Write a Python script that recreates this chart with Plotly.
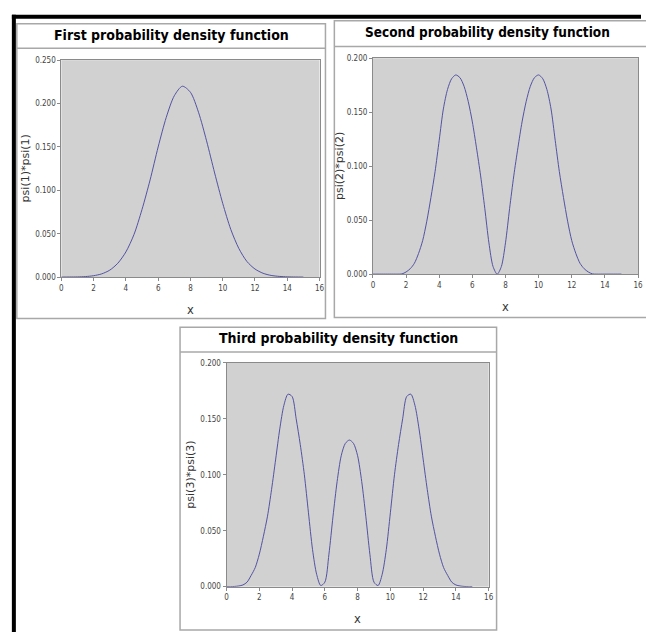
import plotly.graph_objects as go

W, H = 646, 637

# ---------- data ----------
x1 = [0, 0.5, 1, 1.5, 2, 2.5, 3, 3.5, 4, 4.5, 5, 5.5, 6, 6.5, 7, 7.5,
      8, 8.5, 9, 9.5, 10, 10.5, 11, 11.5, 12, 12.5, 13, 13.5, 14, 14.5, 15]
y1 = [0, 0.0001, 0.0002, 0.0006, 0.0016, 0.0037, 0.008, 0.016, 0.029, 0.049,
      0.078, 0.112, 0.150, 0.184, 0.209, 0.220, 0.213, 0.190, 0.157, 0.120,
      0.085, 0.055, 0.033, 0.018, 0.0093, 0.0044, 0.0019, 0.0008, 0.0003, 0.0001, 0]

x23 = [0, 0.25, 0.5, 0.75, 1, 1.25, 1.5, 1.75, 2, 2.25, 2.5, 2.75, 3, 3.25, 3.5, 3.75,
       4, 4.25, 4.5, 4.75, 5, 5.25, 5.5, 5.75, 6, 6.25, 6.5, 6.75, 7, 7.25, 7.5, 7.75,
       8, 8.25, 8.5, 8.75, 9, 9.25, 9.5, 9.75, 10, 10.25, 10.5, 10.75, 11, 11.25, 11.5,
       11.75, 12, 12.25, 12.5, 12.75, 13, 13.25, 13.5, 13.75, 14, 14.25, 14.5, 14.75, 15]
y2 = [0, 0, 0, 0, 0, 0, 0, 0.0002, 0.002, 0.005, 0.010, 0.019, 0.031, 0.049, 0.071, 0.095,
      0.124, 0.153, 0.171, 0.181, 0.1845, 0.182, 0.174, 0.160, 0.141, 0.117, 0.091, 0.061,
      0.029, 0.007, 0.0, 0.007, 0.029, 0.061, 0.091, 0.117, 0.141, 0.160, 0.174, 0.182,
      0.1845, 0.181, 0.171, 0.153, 0.124, 0.095, 0.071, 0.049, 0.031, 0.019, 0.010, 0.005,
      0.002, 0.0002, 0, 0, 0, 0, 0, 0, 0]
y3 = [0, 0, 0.0002, 0.0006, 0.0015, 0.004, 0.010, 0.017, 0.029, 0.045, 0.063, 0.087,
      0.114, 0.141, 0.162, 0.172, 0.170, 0.150, 0.127, 0.100, 0.066, 0.033, 0.011, 0.001,
      0.004, 0.029, 0.063, 0.094, 0.117, 0.128, 0.131, 0.128, 0.117, 0.094, 0.063, 0.029,
      0.004, 0.001, 0.011, 0.033, 0.066, 0.100, 0.127, 0.150, 0.170, 0.172, 0.162, 0.141,
      0.114, 0.087, 0.063, 0.045, 0.029, 0.017, 0.010, 0.004, 0.0015, 0.0006, 0.0002, 0, 0]

titles = ["First probability density function",
          "Second probability density function",
          "Third probability density function"]
ylabels = ["psi(1)*psi(1)", "psi(2)*psi(2)", "psi(3)*psi(3)"]
xlabel = "x"
ymax = [0.25, 0.2, 0.2]
xticks = [0, 2, 4, 6, 8, 10, 12, 14, 16]

# ---------- layout geometry (pixels) ----------
areas = [(60, 57, 321, 277), (375, 55, 643, 274), (227, 364, 492, 591)]
boxes = [(15, 20, 327, 45, 319), (336, 17, 652, 43, 318), (180, 328, 500, 353, 635)]
title_pos = [(171, 31, 14), (491, 28, 13.5), (340, 339, 14)]
ylab_x = [24, 340.5, 191]

def px(x):
    return x / W

def py(y):
    return 1 - y / H

LINE = "#5252a2"
AX = "#8a8a8a"
FONT_C = "DejaVu Sans Condensed, DejaVu Sans, sans-serif"
FONT = "DejaVu Sans, sans-serif"

fig = go.Figure()
series = [(x1, y1), (x23, y2), (x23, y3)]
for i, (xs, ys) in enumerate(series):
    n = "" if i == 0 else str(i + 1)
    fig.add_trace(go.Scatter(x=xs, y=ys, mode="lines",
                             line=dict(color=LINE, width=1, shape="spline", smoothing=0.8),
                             xaxis="x" + n, yaxis="y" + n, showlegend=False, hoverinfo="skip"))

layout = dict(width=W, height=H, margin=dict(l=0, r=0, t=0, b=0),
              paper_bgcolor="white", plot_bgcolor="#d1d1d1", showlegend=False)

shapes = []
annotations = []
for i in range(3):
    n = "" if i == 0 else str(i + 1)
    l, t, r, b = areas[i]
    common = dict(showline=True, linecolor=AX, linewidth=1, mirror=True, ticks="outside",
                  ticklen=3, tickcolor=AX, tickwidth=1, showgrid=False, zeroline=False,
                  tickfont=dict(family=FONT_C, size=8, color="#444444"))
    layout["xaxis" + n] = dict(domain=[px(l), px(r)], range=[0, 16], tickvals=xticks,
                               anchor="y" + n, fixedrange=True, **common)
    layout["yaxis" + n] = dict(domain=[py(b), py(t)], range=[0, ymax[i]], dtick=0.05,
                               tickformat=".3f", anchor="x" + n, fixedrange=True, **common)
    bl, bt, br, btb, bb = boxes[i]
    shapes.append(dict(type="rect", xref="paper", yref="paper", x0=px(bl), x1=px(br),
                       y0=py(bb), y1=py(bt), line=dict(color="#a8a8a8", width=1.5), layer="below"))
    shapes.append(dict(type="line", xref="paper", yref="paper", x0=px(bl), x1=px(br),
                       y0=py(btb), y1=py(btb), line=dict(color="#a8a8a8", width=1.5), layer="below"))
    tx, ty, ts = title_pos[i]
    annotations.append(dict(text="<b>" + titles[i] + "</b>", x=px(tx), y=py(ty), xref="paper", yref="paper",
                            showarrow=False, xanchor="center", yanchor="middle",
                            font=dict(family=FONT_C, size=ts, color="black")))
    annotations.append(dict(text=ylabels[i], x=px(ylab_x[i]), y=py((t + b) / 2), xref="paper", yref="paper",
                            showarrow=False, textangle=-90, xanchor="center", yanchor="middle",
                            font=dict(family=FONT, size=11, color="#333333")))
    annotations.append(dict(text=xlabel, x=px((l + r) / 2), y=py(b + 33), xref="paper", yref="paper",
                            showarrow=False, xanchor="center", yanchor="middle",
                            font=dict(family=FONT, size=11.5, color="#333333")))

# outer black frame (top and left)
shapes.append(dict(type="line", xref="paper", yref="paper", x0=px(10), x1=px(646), y0=py(13), y1=py(13),
                   line=dict(color="black", width=4)))
shapes.append(dict(type="line", xref="paper", yref="paper", x0=px(12), x1=px(12), y0=py(11), y1=py(637),
                   line=dict(color="black", width=4)))

layout["shapes"] = shapes
layout["annotations"] = annotations
fig.update_layout(**layout)
fig.write_html("out.html")
